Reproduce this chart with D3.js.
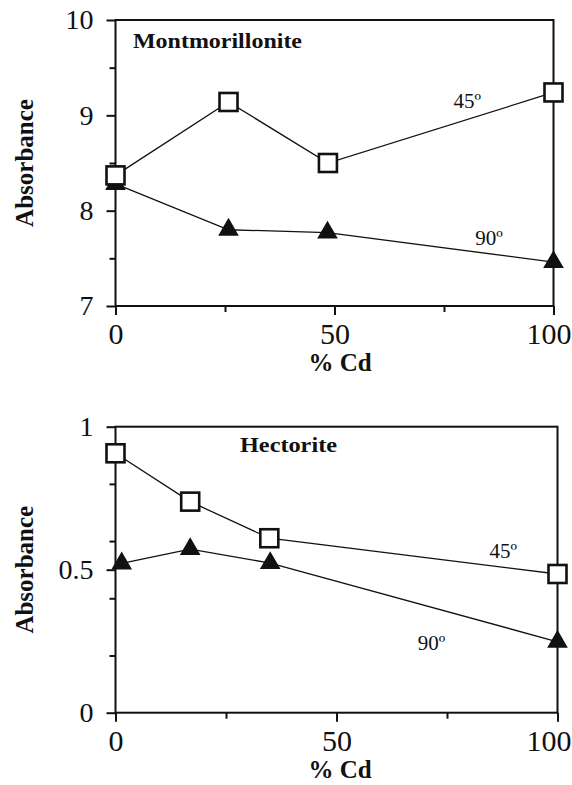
<!DOCTYPE html>
<html>
<head>
<meta charset="utf-8">
<script src="https://cdn.jsdelivr.net/npm/d3@7"></script>
<style>
  body { margin: 0; background: #fff; }
  svg text { font-family: "Liberation Serif", Tinos, "Times New Roman", Times, serif; fill: #111; }
</style>
</head>
<body>
<div id="graph"><svg></svg></div>
<script>
// data
const montX45 = [0, 25.8, 48.5, 100];
const montY45 = [8.37, 9.14, 8.5, 9.24];
const montX90 = [0, 25.8, 48.4, 100];
const montY90 = [8.28, 7.8, 7.77, 7.46];

const hectX45 = [0, 16.9, 34.8, 100];
const hectY45 = [0.907, 0.738, 0.61, 0.485];
const hectX90 = [1.4, 16.9, 35, 100];
const hectY90 = [0.522, 0.572, 0.523, 0.248];

const xTicksMajor = [0, 50, 100];
const xTicksMinor = [25, 75];
const montTicksMajor = [7, 8, 9, 10];
const montTicksMinor = [7.5, 8.5, 9.5];
const hectTicksMajor = [0, 0.5, 1];
const hectTicksMinor = [0.2, 0.4, 0.6, 0.8];

const serif = '"Liberation Serif", Tinos, "Times New Roman", Times, serif';

let svg = d3.select("#graph svg").attr("width", 572).attr("height", 785);

function panel(opt) {
  let x = d3.scaleLinear().domain([0, 100]).range([opt.left, opt.right]);
  let y = d3.scaleLinear().domain(opt.yDomain).range([opt.bottom, opt.top]);
  let g = svg.append("g");

  // y axis ticks
  g.append("g")
    .attr("transform", "translate(" + opt.left + ",0)")
    .call(d3.axisLeft(y).tickValues(opt.yMajor).tickSize(9).tickPadding(13)
      .tickFormat(opt.yFormat))
    .call(a => a.select(".domain").remove())
    .call(a => a.attr("font-family", null))
    .call(a => a.selectAll("line").attr("stroke", "#111").attr("stroke-width", 2))
    .call(a => a.selectAll("text").style("font-size", "28px")
      .style("font-family", serif).attr("fill", "#111"));
  g.append("g")
    .attr("transform", "translate(" + opt.left + ",0)")
    .call(d3.axisLeft(y).tickValues(opt.yMinor).tickSize(6).tickFormat(""))
    .call(a => a.select(".domain").remove())
    .call(a => a.selectAll("line").attr("stroke", "#111").attr("stroke-width", 2));

  // x axis ticks; "100" pushed in so it stays on the page
  g.append("g")
    .attr("transform", "translate(0," + opt.bottom + ")")
    .call(d3.axisBottom(x).tickValues(xTicksMajor).tickSize(9).tickPadding(8))
    .call(a => a.select(".domain").remove())
    .call(a => a.attr("font-family", null))
    .call(a => a.selectAll("line").attr("stroke", "#111").attr("stroke-width", 2))
    .call(a => a.selectAll("text").style("font-size", "30px")
      .style("font-family", serif).attr("fill", "#111")
      .filter(d => d === 100)
      .attr("text-anchor", "end").attr("x", 571 - opt.right));
  g.append("g")
    .attr("transform", "translate(0," + opt.bottom + ")")
    .call(d3.axisBottom(x).tickValues(xTicksMinor).tickSize(6).tickFormat(""))
    .call(a => a.select(".domain").remove())
    .call(a => a.selectAll("line").attr("stroke", "#111").attr("stroke-width", 2));

  // frame
  g.append("rect")
    .attr("x", opt.left).attr("y", opt.top)
    .attr("width", opt.right - opt.left).attr("height", opt.bottom - opt.top)
    .attr("fill", "none").attr("stroke", "#111").attr("stroke-width", 2);

  let line = d3.line().x(d => x(d[0])).y(d => y(d[1]));
  let s45 = opt.x45.map((v, i) => [v, opt.y45[i]]);
  let s90 = opt.x90.map((v, i) => [v, opt.y90[i]]);

  g.append("path").datum(s45).attr("d", line)
    .attr("fill", "none").attr("stroke", "#111").attr("stroke-width", 1.3);
  g.append("path").datum(s90).attr("d", line)
    .attr("fill", "none").attr("stroke", "#111").attr("stroke-width", 1.3);

  // triangles (90 deg)
  g.selectAll(".tri").data(s90).enter().append("path")
    .attr("transform", d => "translate(" + x(d[0]) + "," + y(d[1]) + ")")
    .attr("d", d3.symbol(d3.symbolTriangle, 185))
    .attr("fill", "#111");

  // squares (45 deg)
  g.selectAll(".sq").data(s45).enter().append("rect")
    .attr("x", d => x(d[0]) - 9).attr("y", d => y(d[1]) - 9)
    .attr("width", 18).attr("height", 18)
    .attr("fill", "#fff").attr("stroke", "#111").attr("stroke-width", 2.6);

  // labels
  g.append("text").attr("x", x(opt.lab45[0])).attr("y", y(opt.lab45[1]))
    .attr("text-anchor", "middle").style("font-size", "21px").text("45º");
  g.append("text").attr("x", x(opt.lab90[0])).attr("y", y(opt.lab90[1]))
    .attr("text-anchor", "middle").style("font-size", "21px").text("90º");

  g.append("text").attr("x", opt.title[0]).attr("y", opt.title[1])
    .style("font-size", "21px").style("font-weight", "bold")
    .attr("textLength", opt.title[2]).attr("lengthAdjust", "spacingAndGlyphs")
    .text(opt.name);

  g.append("text").attr("x", 340).attr("y", opt.bottom + 65)
    .attr("text-anchor", "middle").style("font-size", "25px").style("font-weight", "bold")
    .text("% Cd");

  g.append("text")
    .attr("transform", "translate(33," + (opt.top + opt.bottom) / 2 + ") rotate(-90)")
    .attr("text-anchor", "middle").style("font-size", "25px").style("font-weight", "bold")
    .text("Absorbance");
}

panel({
  left: 115.5, right: 553.5, top: 20, bottom: 306,
  yDomain: [7, 10], yMajor: montTicksMajor, yMinor: montTicksMinor,
  yFormat: d3.format("d"),
  x45: montX45, y45: montY45, x90: montX90, y90: montY90,
  lab45: [80.3, 9.08], lab90: [85.3, 7.64],
  title: [133, 48, 169], name: "Montmorillonite"
});

panel({
  left: 115.5, right: 557.5, top: 426.7, bottom: 712.7,
  yDomain: [0, 1], yMajor: hectTicksMajor, yMinor: hectTicksMinor,
  yFormat: d => (d === 0.5 ? "0.5" : d3.format("d")(d)),
  x45: hectX45, y45: hectY45, x90: hectX90, y90: hectY90,
  lab45: [87.7, 0.541], lab90: [71.5, 0.219],
  title: [240, 452, 97], name: "Hectorite"
});
</script>
</body>
</html>
